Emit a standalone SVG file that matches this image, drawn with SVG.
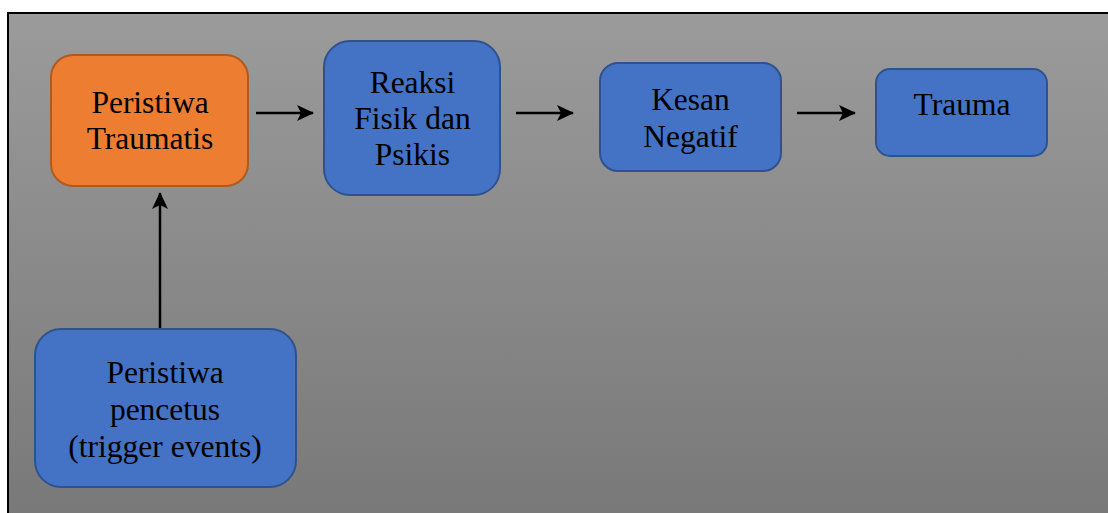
<svg xmlns="http://www.w3.org/2000/svg" width="1108" height="513" viewBox="0 0 1108 513">
  <defs>
    <linearGradient id="bg" x1="0" y1="0" x2="0" y2="1">
      <stop offset="0" stop-color="#9b9b9b"/>
      <stop offset="1" stop-color="#787878"/>
    </linearGradient>
    <marker id="arr" viewBox="0 0 17 16" refX="16" refY="8" markerWidth="17" markerHeight="16" markerUnits="userSpaceOnUse" orient="auto" overflow="visible">
      <path d="M0,0 L17,8 L0,16 L4,8 Z" fill="#000"/>
    </marker>
    <style>
      .blue { fill: #4472C4; stroke: #2F528F; stroke-width: 2; }
      .orange { fill: #ED7D31; stroke: #AE5A21; stroke-width: 2; }
      .lbl { font-family: "Liberation Serif", Tinos, "Times New Roman", serif; font-size: 31.5px; fill: #000; text-anchor: middle; }
      .conn { stroke: #000; stroke-width: 2.5; fill: none; marker-end: url(#arr); }
    </style>
  </defs>
  <rect x="0" y="0" width="1108" height="513" fill="#fff"/>
  <rect x="8" y="13" width="1110" height="510" fill="url(#bg)" stroke="#000" stroke-width="2"/>

  <g id="connectors">
    <line class="conn" x1="256" y1="113" x2="313" y2="113"/>
    <line class="conn" x1="516" y1="113" x2="573" y2="113"/>
    <line class="conn" x1="797" y1="113" x2="855" y2="113"/>
    <line class="conn" x1="160" y1="330" x2="160" y2="193"/>
  </g>

  <g id="node-peristiwa-traumatis">
    <rect class="orange" x="51" y="55" width="197" height="131" rx="22"/>
    <text class="lbl" x="150" y="113">Peristiwa</text>
    <text class="lbl" x="150" y="149">Traumatis</text>
  </g>

  <g id="node-reaksi">
    <rect class="blue" x="324" y="41" width="176" height="154" rx="26"/>
    <text class="lbl" x="412.5" y="93">Reaksi</text>
    <text class="lbl" x="412.5" y="129">Fisik dan</text>
    <text class="lbl" x="412.5" y="165">Psikis</text>
  </g>

  <g id="node-kesan">
    <rect class="blue" x="600" y="63" width="181" height="108" rx="18"/>
    <text class="lbl" x="690.5" y="110">Kesan</text>
    <text class="lbl" x="690.5" y="147">Negatif</text>
  </g>

  <g id="node-trauma">
    <rect class="blue" x="876" y="69" width="171" height="87" rx="14"/>
    <text class="lbl" x="962" y="115">Trauma</text>
  </g>

  <g id="node-pencetus">
    <rect class="blue" x="35" y="329" width="261" height="158" rx="26"/>
    <text class="lbl" x="165" y="383">Peristiwa</text>
    <text class="lbl" x="165" y="420">pencetus</text>
    <text class="lbl" x="165" y="457">(trigger events)</text>
  </g>
</svg>
